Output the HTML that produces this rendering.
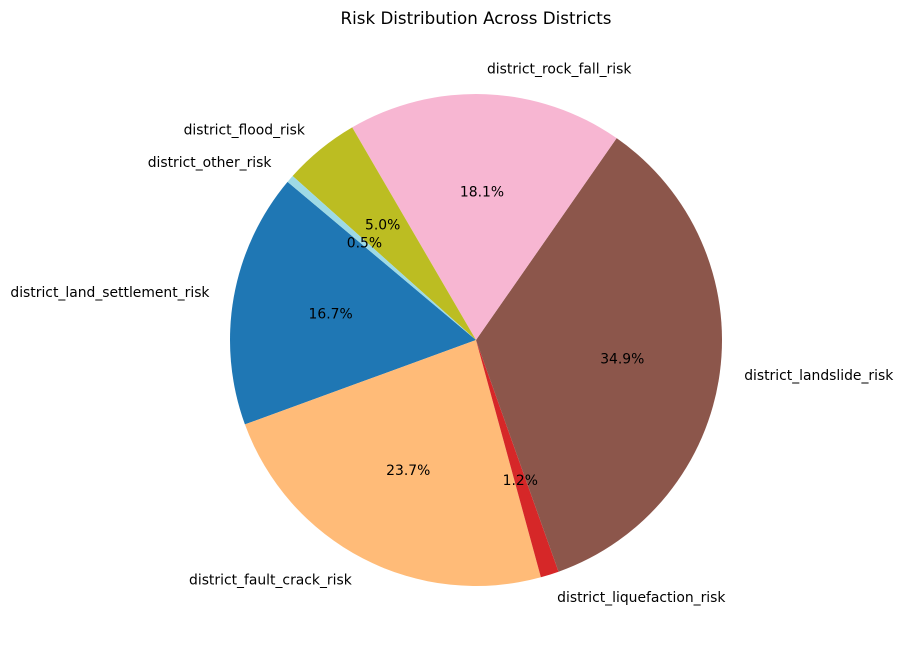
<!DOCTYPE html>
<html><head><meta charset="utf-8"><style>
html,body{margin:0;padding:0;background:#fff;}
svg{display:block;font-family:"DejaVu Sans","Liberation Sans",sans-serif;}
</style></head><body>
<svg id="chart" width="904" height="658" viewBox="0 0 904 658">
<text x="476" y="24" text-anchor="middle" font-size="16.7" fill="#000">Risk Distribution Across Districts</text>
<g id="slices"></g>
<g id="labels"></g>
</svg>
<script>
const categories = ["district_land_settlement_risk","district_fault_crack_risk","district_liquefaction_risk","district_landslide_risk","district_rock_fall_risk","district_flood_risk","district_other_risk"];
const values = [16.7, 23.7, 1.2, 34.9, 18.1, 5.0, 0.5];
const colors = ["#1f77b4","#ffbb78","#d62728","#8c564b","#f7b6d2","#bcbd22","#9edae5"];
const startAngle = 140;
const cx = 476, cy = 340, R = 246;
const NS = "http://www.w3.org/2000/svg";
const g = document.getElementById("slices");
const gl = document.getElementById("labels");
const total = values.reduce((a,b)=>a+b,0);
function pt(deg, r){const a=deg*Math.PI/180;return [cx+r*Math.cos(a), cy-r*Math.sin(a)];}
let ang = startAngle;
values.forEach((v,i)=>{
  const sweep = v/total*360;
  const a0 = ang, a1 = ang+sweep;
  const p0 = pt(a0,R), p1 = pt(a1,R);
  const large = sweep>180?1:0;
  const path = document.createElementNS(NS,"path");
  path.setAttribute("d",`M${cx},${cy} L${p0[0]},${p0[1]} A${R},${R} 0 ${large} 0 ${p1[0]},${p1[1]} Z`);
  path.setAttribute("fill",colors[i]);
  
  
  g.appendChild(path);
  const mid = (a0+a1)/2;
  const lp = pt(mid, R*1.1);
  const lt = document.createElementNS(NS,"text");
  lt.setAttribute("x",lp[0]); lt.setAttribute("y",lp[1]);
  lt.setAttribute("text-anchor", Math.cos(mid*Math.PI/180)>=0?"start":"end");
  lt.setAttribute("dominant-baseline","central");
  lt.setAttribute("font-size","13.9");
  lt.textContent = categories[i];
  
  
  gl.appendChild(lt);
  const pp = pt(mid, R*0.6);
  const pt2 = document.createElementNS(NS,"text");
  pt2.setAttribute("x",pp[0]); pt2.setAttribute("y",pp[1]);
  pt2.setAttribute("text-anchor","middle");
  pt2.setAttribute("dominant-baseline","central");
  pt2.setAttribute("font-size","13.9");
  pt2.textContent = (v/total*100).toFixed(1)+"%";
  
  
  gl.appendChild(pt2);
  ang = a1;
});
</script>
</body></html>
